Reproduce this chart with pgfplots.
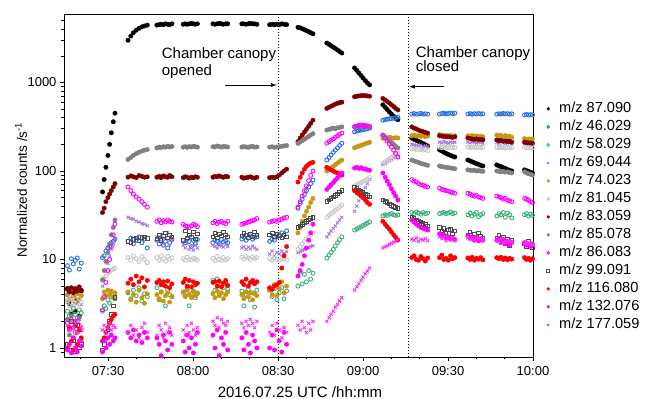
\documentclass[border=0pt]{standalone}
\usepackage{fontspec}
\setmainfont{Liberation Sans}
\usepackage{pgfplots}
\usepackage{pgfplotstable}
\pgfplotsset{compat=1.18}
\usetikzlibrary{arrows.meta}

\definecolor{cblue}{RGB}{40,110,220}
\definecolor{cgreen}{RGB}{60,175,120}
\definecolor{clav}{RGB}{165,120,225}
\definecolor{cgold}{RGB}{200,150,15}
\definecolor{clgray}{RGB}{200,200,200}
\definecolor{cdred}{RGB}{128,0,0}
\definecolor{cgray}{RGB}{128,128,128}
\definecolor{cmag}{RGB}{255,0,255}
\definecolor{cdgray}{RGB}{75,75,75}
\definecolor{cred}{RGB}{255,0,0}
\definecolor{cmagx}{RGB}{255,40,255}

% t = minutes after 07:00; a..m = m/z 87.090, 46.029, 58.029, 69.044, 74.023, 81.045, 83.059, 85.078, 86.083, 99.091, 116.080, 132.076, 177.059
\pgfplotstableread{
t a b c d e f g h i j k l m
15.6 4.7 8.5 2.6 3.3 4.0 3.4 4.6 2.1 1.9 1.1 1.0 0.95 1.8
16.3 3.2 7.6 2.3 3.6 3.5 3.0 4.3 1.4 1.6 0.95 1.7 1.1 1.6
17.0 2.4 10.2 2.5 3.0 4.3 3.7 4.8 2.3 2.1 2.0 1.2 0.88 2.0
17.7 4.5 8.9 2.8 3.4 3.8 3.2 4.2 1.3 1.7 1.2 0.95 1.3 1.7
18.4 2.6 9.8 2.4 3.8 3.3 3.5 4.7 2.0 1.5 0.92 1.8 1.0 1.9
19.1 3.5 10.4 2.2 3.2 4.1 2.9 4.4 1.5 2.0 1.8 1.1 0.9 1.5
19.8 2.3 7.8 2.7 3.5 3.6 3.6 4.9 2.2 1.8 1.0 1.6 1.2 2.1
20.5 4.4 9.1 2.5 3.1 3.9 3.3 4.5 1.2 1.6 1.1 1.3 1.05 1.7
28.0 58 10.5 2.6 5.0 3.6 5.8 34 5.9 2.7 0.95 1.2 0.9 1.6
28.6 80 11.0 3.0 6.0 4.3 6.2 38 7.5 3.8 1.1 1.3 1.2 1.8
29.2 110 12.5 2.8 7.5 3.9 6.5 45 9.5 5.5 1.3 1.5 1.0 1.5
29.9 150 13.5 3.5 9.0 4.5 7.0 50 12 7.5 1.6 1.7 1.3 1.7
30.5 200 14.0 3.2 11.0 4.0 7.2 55 15 10 2.0 1.9 1.1 1.9
31.1 270 15.5 3.8 13.0 4.4 7.6 60 19 14 2.4 2.1 1.4 1.6
31.8 360 16.0 4.0 15.0 3.7 7.8 66 23 19 3.0 2.3 1.2 1.8
32.4 450 17.0 3.6 17.0 4.2 8.0 72 28 25 3.7 2.4 1.3 1.7
37.0 3000 16.0 4.2 30 4.3 10.5 85 135 66 16.0 5.4 1.5 1.5
38.0 3350 17.5 3.6 29 3.5 9.8 88 142 60 15.5 6.0 1.3 1.8
38.9 3650 15.0 4.5 28.5 4.0 11.0 86 150 55 16.8 5.2 1.6 1.4
39.9 3900 16.5 3.9 27 3.3 10.2 84 157 51 17.5 6.5 1.2 1.6
40.9 4100 18.0 4.8 26.5 4.5 9.5 89 163 48 16.2 5.6 1.4 1.3
41.9 4250 15.5 3.4 25.5 3.7 10.8 87 168 45 17.8 6.2 1.15 1.7
42.8 4350 17.0 4.1 25 3.2 10.0 85 172 42 18.0 4.9 1.5 1.9
43.8 4450 13.5 3.8 24 4.1 9.2 86 175 39 17.2 5.8 1.3 1.5
47.2 4450 16.5 4.8 18 4.0 10.5 85 182 27 17 5.5 1.3 1.4
48.0 4500 15.0 3.5 16 3.6 9.8 87 186 28 19 5.8 1.1 1.8
48.7 4550 17.0 4.3 19 4.3 11.0 84 184 26 16.5 5.2 0.82 1.6
49.5 4500 14.5 5.2 15 3.4 10.2 88 188 27.5 18.5 5.6 1.4 1.3
50.2 4600 16.0 3.0 17 3.9 9.6 86 186 26.5 20 5.0 1.2 1.9
51.0 4550 13.5 4.5 20 4.2 10.8 85 190 28 17.5 5.7 0.95 1.5
51.7 4500 15.5 4.0 14.5 3.3 10.0 89 187 27 19 4.8 1.5 1.7
52.5 4600 16.8 3.8 16.5 3.8 10.4 86 189 26.5 18 5.3 1.1 1.4
56.5 4550 16.5 4.3 14.5 4.2 10.2 84 186 25 16.5 5.5 1.2 1.6
57.2 4600 15.5 3.9 13.5 3.8 9.8 86 188 24 21 6.0 0.9 1.4
57.9 4550 17.0 4.6 15.0 4.5 10.6 85 185 23.5 17.5 5.0 1.4 1.8
58.6 4600 16.0 3.0 13.0 4.0 10.0 83 189 23 19 5.8 1.0 1.5
59.4 4650 14.0 4.1 14.0 3.7 9.9 85 187 24 18 4.9 1.3 1.9
60.1 4600 16.5 4.4 12.8 4.3 10.4 84 190 25 20.5 5.6 0.88 1.6
60.8 4550 15.0 3.7 14.5 3.9 10.1 86 188 24.5 17 5.2 1.1 1.4
61.5 4600 16.8 4.2 13.5 4.1 9.8 85 186 23.5 19.5 5.4 1.5 1.7
67.0 4600 15.5 5.8 14.5 4.1 10.3 85 188 26 18 5.5 1.4 2.0
67.7 4550 16.5 4.5 14.0 3.7 9.7 87 187 27 20 5.6 1.0 1.8
68.5 4600 16.0 6.0 13.5 4.4 10.8 86 192 25.5 17.5 5.0 1.6 2.2
69.2 4650 15.0 4.2 15.0 3.9 10.0 88 189 26.5 19.5 5.7 0.82 1.7
70.0 4600 16.8 5.2 14.2 4.2 9.8 86 186 27 18.5 4.9 1.3 2.1
70.7 4550 15.8 4.8 13.8 3.6 10.5 85 190 26 20.5 5.4 1.1 1.9
71.5 4600 16.2 5.5 14.8 4.0 9.9 87 188 25.5 19 5.8 1.5 1.8
72.2 4600 15.5 4.6 14.0 4.3 10.2 86 187 27 18 5.1 0.95 2.0
77.2 4600 17.0 4.4 13.5 4.0 10.6 85 186 25 18.5 5.6 1.3 1.9
77.9 4600 18.0 3.0 14.0 3.6 10.2 83 189 25.5 20 5.2 0.95 1.7
78.7 4550 16.5 4.0 13.0 4.3 10.8 84 187 26 19 6.0 1.5 2.0
79.5 4600 17.5 4.6 13.8 3.8 10.4 85 185 26.5 17.5 5.0 1.1 1.8
80.2 4650 18.5 3.5 13.2 4.2 10.0 86 188 27 19.5 5.5 0.88 2.1
81.0 4600 17.0 4.2 14.2 3.5 10.7 84 190 27.5 18 5.8 1.4 1.9
81.7 4600 17.8 2.9 13.5 4.1 10.3 83 186 28 20.5 5.3 1.2 1.7
82.5 4550 18.0 4.5 13.0 3.9 10.5 85 187 29 19 5.6 1.0 2.0
87.0 4500 16 4.5 11.5 4.5 10.2 84 186 26.5 19 4.8 1.0 1.5
87.9 4550 17 3.8 12.5 4.0 9.8 85 188 27 20 4.6 1.4 1.8
88.7 4500 16.5 4.7 11 5.2 10.4 84 185 27.5 18 5.0 0.95 1.4
89.6 4550 18 3.5 12 3.9 10.0 86 187 27 19.5 5.2 1.6 1.9
90.4 4500 19 4.2 11.5 4.7 9.9 90 188 28 18.5 5.5 1.2 1.6
91.3 4600 20 4.8 12.5 5.6 10.3 95 190 28.5 17.5 8.0 0.9 1.3
92.1 4550 19 3.6 11.8 4.2 10.1 100 192 29.5 19 11 1.5 1.7
93.0 4500 21 4.4 12.2 5.0 9.8 105 194 30 18 14 1.1 1.5
97.0 4200 38 5.0 12 20 13 215 205 39 23 75 6.5 1.8
97.8 4150 43 7.2 12.3 23 14 235 212 45 24 85 7.5 1.6
98.5 4050 48 5.3 12.7 27 15 255 220 52 25 95 8.8 2.0
99.3 3950 54 6.8 13 31 16 275 228 60 26 105 11 1.7
100.0 3850 60 5.6 13.3 35 17 295 236 68 27 113 13.5 1.5
100.8 3750 66 7.5 13.6 39 18 320 245 78 28 119 16.5 1.9
101.5 3650 72 6.0 14 44 19 345 255 89 29 123 20 1.6
102.3 3550 79 7.0 14.3 49 20 375 265 100 30 125 25 2.0
107.2 2790 133 10.4 18 100 30 510 290 206 45 110 62 2.0
108.0 2700 142 11.2 19.5 104 31.5 525 295 214 47 106 66 2.2
108.7 2600 152 12.0 21 108 33 540 300 222 49 103 70 2.4
109.5 2500 162 13.0 22.5 113 34.5 555 305 230 51 100 74 2.6
110.2 2420 172 14.2 24 118 36 570 300 240 53 97 79 2.9
111.0 2330 183 15.5 26 123 37.5 582 308 250 55 95 84 3.1
111.7 2240 194 16.8 28 128 39.5 592 310 259 58 92 89 3.4
112.5 2150 206 18.0 30 133 41 600 315 268 60 90 95 3.7
117.0 1460 277 21.5 35 183 68 690 318 315 65 60 108 4.5
117.8 1370 282 22 40 187 70 700 322 322 63 57 110 4.9
118.5 1280 287 22.8 46 191 72 705 325 328 61 55 107 5.3
119.3 1200 290 23.5 52 195 74 710 320 332 59 52 109 5.8
120.0 1120 293 24.2 58 199 76 712 323 330 57 50 106 6.3
120.8 1050 297 25 65 203 78 710 326 326 55 47 105 6.9
121.5 990 300 25.8 72 207 81 705 320 322 53 44 103 7.4
122.3 940 305 26.6 80 211 84 700 318 318 51 42 102 8.0
127.0 560 375 31 118 235 122 660 254 254 47 27 95 13.5
127.8 525 380 32 122 238 127 635 242 235 45.5 25 85 13.9
128.5 495 385 31.5 127 236 132 610 230 218 44 23.5 77 14.3
129.3 465 388 32.5 131 240 138 585 220 202 42.5 22 70 14.8
130.0 440 392 33 136 237 143 560 210 187 41 20.5 63 15.2
130.8 415 395 32 141 235 149 535 200 172 40 19 57 15.7
131.5 395 400 31.5 146 238 155 510 190 158 39 17.8 52 16.1
132.3 380 405 32 150 236 160 490 182 144 38 16.6 47 16.6
137.2 235 440 34 200 250 180 315 133 80 30 10.5 28 17
138.0 228 445 33 198 255 178 305 130 77 29 11 26.5 16.5
138.8 222 438 34.5 195 248 175 298 127 75 28 10 25 17.5
139.6 216 442 33.5 193 252 177 290 125 72 27 9.8 24 16
140.4 210 447 32.5 196 246 174 283 122 70 26.5 10.8 23 17
141.2 204 440 34 190 250 172 278 120 69 25.5 10.2 22.5 16.5
142.0 198 443 33 192 244 175 272 118 67 25 9.6 22 17.2
142.8 192 438 33.5 188 248 170 268 116 66 24 10.4 21.5 16.3
147.0 173 440 33 212 258 186 250 114 64 23 10.5 19.5 18
147.8 168 445 33.5 208 255 184 248 112 62 21 11.2 18.5 17.2
148.5 163 450 34 215 250 188 246 111 61 22.5 10 19 17.8
149.3 158 442 33 210 253 185 243 110 60 20 10.3 17.5 16.5
150.1 154 448 33.5 206 248 183 245 109 59 21.5 9.8 18 17.3
150.9 150 452 34.5 212 252 187 242 108 58 22 11 17 16.8
151.6 147 445 33 209 246 185 240 107 57 19.5 10.2 17.5 17.5
152.4 144 450 33.5 211 250 184 243 106 56 21 10.5 16.8 16.2
157.0 133 440 32 212 250 186 236 103 56 19 10.4 18.5 17.5
157.8 130 445 33.5 208 247 184 233 102 55 20.5 10.0 17.5 16.8
158.5 127 438 31 214 252 187 230 101 53 18 10.6 18 17.2
159.3 124 444 32.5 210 245 185 228 102 52 19.5 9.8 16.5 16.4
160.0 121 440 34 207 249 183 230 100 53 17.5 10.3 17.8 17.6
160.8 119 446 30.5 211 243 186 226 101 51 20 10.1 16.2 16.9
161.5 116 441 32 209 247 184 228 100 50 18.5 10.5 17 17.1
162.3 114 443 33 206 244 185 225 99 49 17.6 9.9 16.5 16.6
167.2 117 438 31 210 255 185 224 100 52 17.5 10.5 16.5 16.5
168.0 114 443 33 206 250 183 220 99 51 19 10.2 17.2 15.8
168.7 112 440 32 212 253 186 222 98 50 16 10.6 15.5 16.8
169.5 109 446 34 208 246 184 217 99 48 18 10.0 16.8 15.5
170.2 107 441 30 205 251 182 219 97 49 15 10.4 15.2 16.2
171.0 104 444 33.5 209 244 185 215 98 47 17 9.9 16 15.9
171.7 102 439 32 207 248 183 217 96 46 14.5 10.3 14.6 16.4
172.5 100 442 29.5 204 240 184 212 95 45 16.5 10.1 15.5 15.6
177.0 103 430 32 205 232 185 212 98 49 15 10.5 15.5 15
177.7 101 435 33 202 228 183 210 95 48 14 10.0 14.5 15.5
178.4 99 428 31 200 230 184 208 93 47 16 10.3 15 14.8
179.1 97 433 32.5 203 226 182 207 92 45 14.5 9.8 14 15.3
179.8 95 430 31.5 199 229 183 206 90 44 13.5 10.2 14.8 14.6
}\data

\begin{document}
\begin{tikzpicture}
\path[use as bounding box] (-64pt,-42pt) rectangle (587pt,357pt);
\begin{axis}[
  at={(0pt,0pt)}, anchor=south west,
  scale only axis, width=469pt, height=343pt,
  xmin=14.4, xmax=180, ymode=log, ymin=0.791, ymax=5943,
  xtick={30,60,90,120,150,180},
  xticklabels={07:30,08:00,08:30,09:00,09:30,10:00},
  minor xtick={20,40,50,70,80,100,110,130,140,160,170},
  ytick={1,10,100,1000}, yticklabels={1,10,100,1000},
  minor ytick={0.9,2,3,4,5,6,7,8,9,20,30,40,50,60,70,80,90,200,300,400,500,600,700,800,900,2000,3000,4000,5000},
  tick pos=left, tick align=outside,
  major tick length=4pt, minor tick length=2.5pt,
  every tick/.style={black, line width=0.7pt},
  axis line style={line width=0.8pt},
  ticklabel style={font=\fontsize{13}{15}\selectfont},
  xticklabel style={yshift=-2pt},
  xlabel={2016.07.25 UTC /hh:mm},
  ylabel={Normalized counts /s\textsuperscript{-1}},
  xlabel style={font=\fontsize{15}{17}\selectfont, at={(axis description cs:0.503,-0.102)}, anchor=center},
  ylabel style={font=\fontsize{13.5}{16}\selectfont, at={(axis description cs:-0.0917,0.487)}, anchor=center},
  legend cell align=left,
  legend image code/.code={\draw[mark repeat=2,mark phase=2,#1] plot coordinates {(0pt,0pt)(6pt,0pt)(12pt,0pt)};},
  legend image post style={mark size=1.4pt},
  legend style={draw=none, fill=none, at={(axis description cs:1.029,0.748)}, anchor=north west,
    inner sep=0pt, row sep=1.5pt, column sep=8pt,
    nodes={inner sep=1.5pt, font=\fontsize{14.6}{17}\selectfont, text height=10.5pt, text depth=3pt}},
]
\addplot[only marks, mark=*, mark size=2.2pt, black] table[x=t,y=a]{\data};
\addlegendentry{m/z 87.090}
\addplot[only marks, mark=o, mark size=2pt, cblue, mark options={line width=0.9pt}] table[x=t,y=b]{\data};
\addlegendentry{m/z 46.029}
\addplot[only marks, mark=o, mark size=2pt, cgreen, mark options={line width=0.9pt}] table[x=t,y=c]{\data};
\addlegendentry{m/z 58.029}
\addplot[only marks, mark=x, mark size=2.2pt, clav, mark options={line width=0.9pt}] table[x=t,y=d]{\data};
\addlegendentry{m/z 69.044}
\addplot[only marks, mark=*, mark size=2.2pt, cgold] table[x=t,y=e]{\data};
\addlegendentry{m/z 74.023}
\addplot[only marks, mark=o, mark size=2pt, clgray, mark options={line width=0.9pt}] table[x=t,y=f]{\data};
\addlegendentry{m/z 81.045}
\addplot[only marks, mark=*, mark size=2.2pt, cdred] table[x=t,y=g]{\data};
\addlegendentry{m/z 83.059}
\addplot[only marks, mark=*, mark size=2.2pt, cgray] table[x=t,y=h]{\data};
\addlegendentry{m/z 85.078}
\addplot[only marks, mark=o, mark size=2pt, cmag, mark options={line width=0.9pt}] table[x=t,y=i]{\data};
\addlegendentry{m/z 86.083}
\addplot[only marks, mark=square, mark size=1.8pt, cdgray, mark options={line width=0.9pt}] table[x=t,y=j]{\data};
\addlegendentry{m/z 99.091}
\addplot[only marks, mark=*, mark size=2.2pt, cred] table[x=t,y=k]{\data};
\addlegendentry{m/z 116.080}
\addplot[only marks, mark=*, mark size=2.2pt, cmag] table[x=t,y=l]{\data};
\addlegendentry{m/z 132.076}
\addplot[only marks, mark=x, mark size=2.2pt, cmagx, mark options={line width=0.9pt}] table[x=t,y=m]{\data};
\addlegendentry{m/z 177.059}

\draw[line width=0.9pt, dash pattern=on 0.9pt off 2.1pt] (axis cs:90,0.791) -- (axis cs:90,5943);
\draw[line width=0.9pt, dash pattern=on 0.9pt off 2.1pt] (axis cs:135.9,0.791) -- (axis cs:135.9,5943);
\node[anchor=base west, font=\fontsize{15}{17}\selectfont, inner sep=0pt] at (axis description cs:0.2083,0.8708) {Chamber canopy};
\node[anchor=base west, font=\fontsize{15}{17}\selectfont, inner sep=0pt] at (axis description cs:0.2083,0.8212) {opened};
\node[anchor=base west, font=\fontsize{15}{17}\selectfont, inner sep=0pt] at (axis description cs:0.7499,0.8746) {Chamber canopy};
\node[anchor=base west, font=\fontsize{15}{17}\selectfont, inner sep=0pt] at (axis description cs:0.7499,0.8326) {closed};
\draw[-{Latex[length=6pt,width=4pt]}, line width=0.7pt] (axis cs:71.25,937) -- (axis cs:89.6,937);
\draw[-{Latex[length=6pt,width=4pt]}, line width=0.7pt] (axis cs:148.6,896) -- (axis cs:136.2,896);
\end{axis}
\end{tikzpicture}
\end{document}
